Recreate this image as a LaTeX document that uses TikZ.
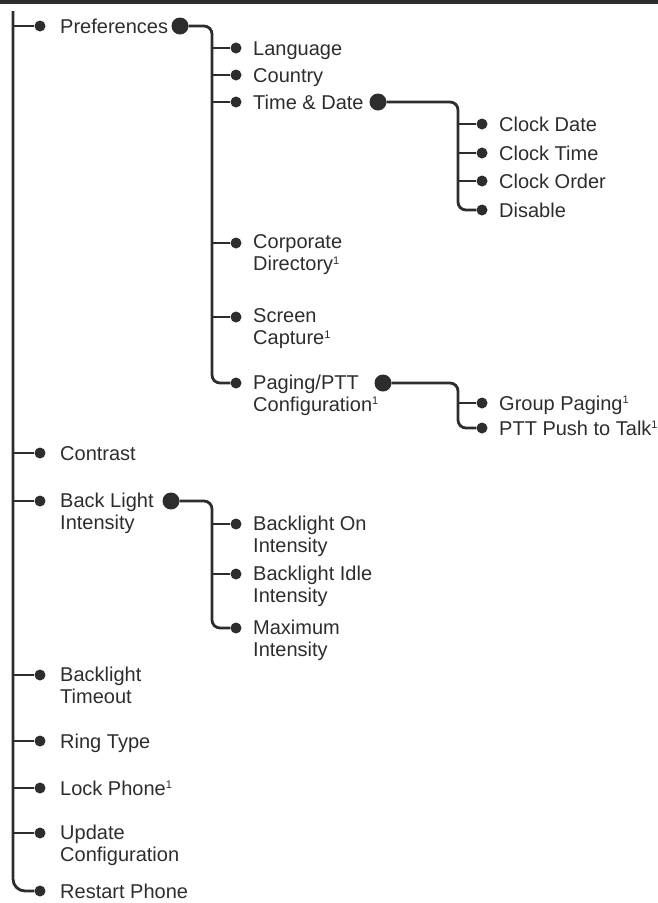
\documentclass[tikz,border=0pt]{standalone}
\usepackage{fontspec}
\setmainfont{Liberation Sans}
\definecolor{ink}{RGB}{45,45,45}
\newcommand\footone{\raisebox{6.5pt}{\fontsize{11}{11}\selectfont 1}}
\begin{document}
\begin{tikzpicture}[x=1pt,y=-1pt,
  link/.style={ink,line width=2.8pt},
  dot/.style={circle,fill=ink,inner sep=0pt,minimum size=11pt},
  bigdot/.style={circle,fill=ink,inner sep=0pt,minimum size=17pt},
  lbl/.style={anchor=north west,inner sep=0pt,align=left,text=ink,
    font=\fontsize{20}{22}\selectfont,execute at begin node=\strut}]
\useasboundingbox (0,0) rectangle (658,903);
\draw[ink,line width=4pt] (0,2) -- (658,2);
% main menu
\coordinate (root) at (13,11);
\foreach \n/\y/\t in {pref/26/Preferences, contr/453/Contrast, blint/501/{Back Light\\Intensity},
    bltime/675/{Backlight\\Timeout}, ring/741/Ring Type, lock/788/Lock Phone\footone,
    upd/833/{Update\\Configuration}, restart/891/Restart Phone} {
  \node[dot] (d-\n) at (40,\y) {};
  \node[lbl] (t-\n) at ([xshift=20pt,yshift=8.2pt]d-\n.center) {\t};
}
\draw[link,rounded corners=12pt] (root) |- (d-restart);
\foreach \n in {pref,contr,blint,bltime,ring,lock,upd} \draw[link] (root |- d-\n) -- (d-\n);
% preferences
\node[bigdot] (b-pref) at (180,26) {};
\coordinate (v-pref) at (212,26);
\foreach \n/\y/\t in {lang/48/Language, country/75/Country, time/102/Time \& Date,
    corp/243/{Corporate\\Directory\footone}, scr/317/{Screen\\Capture\footone},
    paging/383/{Paging/PTT\\Configuration\footone}} {
  \node[dot] (d-\n) at (236,\y) {};
  \node[lbl] (t-\n) at ([xshift=17pt,yshift=8.2pt]d-\n.center) {\t};
}
\draw[link,rounded corners=8pt] (b-pref) -- (v-pref) |- (d-paging);
\foreach \n in {lang,country,time,corp,scr} \draw[link] (v-pref |- d-\n) -- (d-\n);
% time and date
\node[bigdot] (b-time) at (378,102) {};
\coordinate (v-time) at (458,102);
\foreach \n/\y/\t in {cdate/124/Clock Date, ctime/153/Clock Time, corder/181/Clock Order, disable/210/Disable} {
  \node[dot] (d-\n) at (482,\y) {};
  \node[lbl] (t-\n) at ([xshift=17pt,yshift=8.2pt]d-\n.center) {\t};
}
\draw[link,rounded corners=8pt] (b-time) -- (v-time) |- (d-disable);
\foreach \n in {cdate,ctime,corder} \draw[link] (v-time |- d-\n) -- (d-\n);
% paging
\node[bigdot] (b-paging) at (383,383) {};
\coordinate (v-paging) at (458,383);
\foreach \n/\y/\t in {group/403/Group Paging\footone, ptt/428/PTT Push to Talk\footone} {
  \node[dot] (d-\n) at (482,\y) {};
  \node[lbl] (t-\n) at ([xshift=17pt,yshift=8.2pt]d-\n.center) {\t};
}
\draw[link,rounded corners=8pt] (b-paging) -- (v-paging) |- (d-ptt);
\draw[link] (v-paging |- d-group) -- (d-group);
% back light
\node[bigdot] (b-blint) at (171,501) {};
\coordinate (v-blint) at (212,501);
\foreach \n/\y/\t in {blon/524/{Backlight On\\Intensity}, blidle/574/{Backlight Idle\\Intensity},
    blmax/628/{Maximum\\Intensity}} {
  \node[dot] (d-\n) at (236,\y) {};
  \node[lbl] (t-\n) at ([xshift=17pt,yshift=8.2pt]d-\n.center) {\t};
}
\draw[link,rounded corners=8pt] (b-blint) -- (v-blint) |- (d-blmax);
\foreach \n in {blon,blidle} \draw[link] (v-blint |- d-\n) -- (d-\n);
\end{tikzpicture}
\end{document}
